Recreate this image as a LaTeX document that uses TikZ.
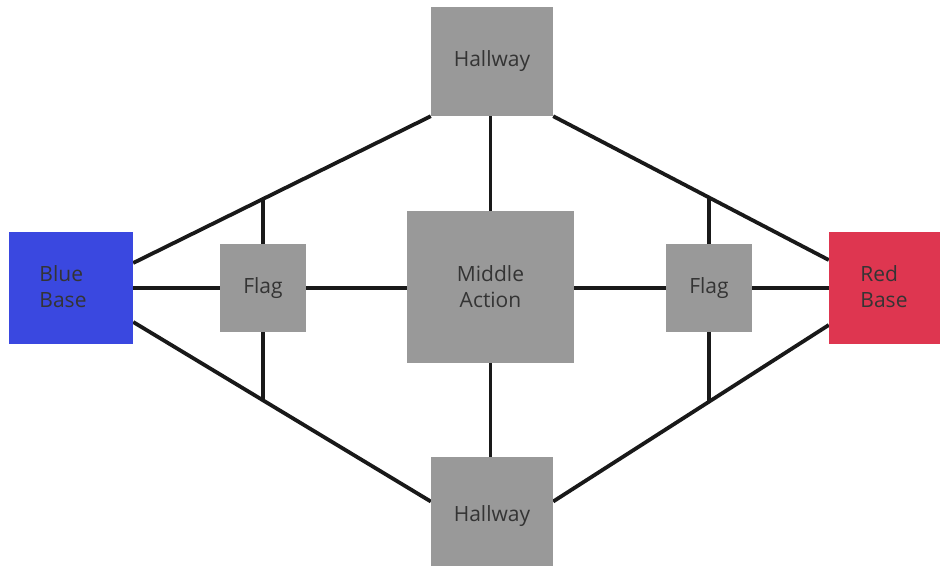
\documentclass[tikz,border=0pt]{standalone}
\usepackage{fontspec}
\setmainfont{Open Sans}
\usetikzlibrary{backgrounds,calc}
\definecolor{boxgray}{RGB}{153,153,153}
\definecolor{bluebase}{RGB}{58,72,224}
\definecolor{redbase}{RGB}{222,54,80}
\definecolor{txt}{RGB}{52,52,52}
\tikzset{
  room/.style={draw=none, fill=boxgray, inner sep=0pt, text=txt, align=center,
    font=\fontsize{21}{26}\selectfont},
  lbl/.style={inner sep=0pt, text=txt, align=left, font=\fontsize{21}{26}\selectfont},
  wire/.style={line width=3.8pt, draw=black!90}
}
\begin{document}
\begin{tikzpicture}[x=1pt,y=1pt]
\useasboundingbox (0,0) rectangle (940,566);
% nodes
\node[room, fill=bluebase, minimum width=124, minimum height=111] (blue) at (71,278) {};
\node[lbl] (bluetxt) at (63,279) {Blue\\Base};
\node[room, fill=redbase, minimum width=112, minimum height=111] (red) at (885,278) {};
\node[lbl] (redtxt) at (884,279) {Red\\Base};
\node[room, minimum width=122, minimum height=109] (hallTop) at (492,504.5) {Hallway};
\node[room, minimum width=122, minimum height=109] (hallBot) at (492,54.5) {};
\node[lbl] (hallBotTxt) at ([yshift=-5pt]hallBot.center) {Hallway};
\node[room, minimum width=167, minimum height=152] (mid) at (490.5,279) {Middle\\Action};
\node[room, minimum width=86, minimum height=88] (flagL) at (263,278) {Flag};
\node[room, minimum width=86, minimum height=88] (flagR) at (709,278) {Flag};
% anchor points
\coordinate (tl1) at ([yshift=25pt]blue.east);
\coordinate (tl2) at (hallTop.south west);
\coordinate (bl1) at ([yshift=-34pt]blue.east);
\coordinate (bl2) at ([yshift=10pt]hallBot.west);
\coordinate (tr1) at (hallTop.south east);
\coordinate (tr2) at ([yshift=28pt]red.west);
\coordinate (br1) at ([yshift=10pt]hallBot.east);
\coordinate (br2) at ([yshift=-37pt]red.west);
\coordinate (jl1) at (intersection of tl1--tl2 and flagL.north--flagL.south);
\coordinate (jl2) at (intersection of bl1--bl2 and flagL.north--flagL.south);
\coordinate (jr1) at (intersection of tr1--tr2 and flagR.north--flagR.south);
\coordinate (jr2) at (intersection of br1--br2 and flagR.north--flagR.south);
\begin{scope}[on background layer]
\draw[wire] (tl1) -- (tl2);
\draw[wire] (bl1) -- (bl2);
\draw[wire] (tr1) -- (tr2);
\draw[wire] (br1) -- (br2);
\draw[wire] (blue.east) -- (flagL.west);
\draw[wire] (flagL.east) -- (mid.west |- flagL.east);
\draw[wire] (mid.east |- flagR.west) -- (flagR.west);
\draw[wire] (flagR.east) -- (red.west);
\draw[wire] (hallTop.south -| mid.north) -- (mid.north);
\draw[wire] (mid.south) -- (hallBot.north -| mid.south);
\draw[wire] (flagL.north) -- (jl1);
\draw[wire] (flagL.south) -- (jl2);
\draw[wire] (flagR.north) -- (jr1);
\draw[wire] (flagR.south) -- (jr2);
\end{scope}
\end{tikzpicture}
\end{document}
